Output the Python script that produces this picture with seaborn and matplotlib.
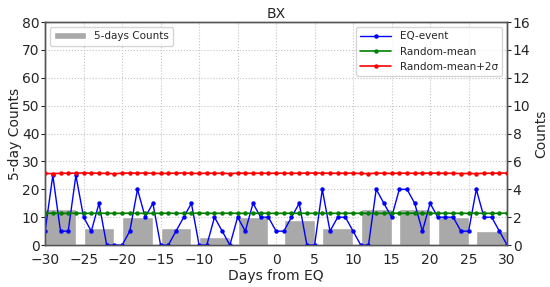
import numpy as np
import pandas as pd
import matplotlib
matplotlib.use("Agg")
import matplotlib.pyplot as plt
import seaborn as sns

# daily EQ-event counts, days -30..30
days = list(range(-30, 31))
eq_event = [1, 5, 1, 1, 5, 2, 1, 3, 0, 0,
            0, 1, 4, 2, 3, 0, 0, 1, 2, 3,
            0, 0, 2, 1, 0, 2, 1, 3, 2, 2,
            1,
            1, 2, 3, 0, 0, 4, 1, 2, 2, 1,
            0, 0, 4, 3, 2, 4, 4, 3, 1, 3,
            2, 2, 2, 1, 1, 4, 2, 2, 1, 0]
random_mean = [2.28, 2.29, 2.28, 2.28, 2.29, 2.28, 2.28, 2.29, 2.28, 2.28,
               2.28, 2.29, 2.28, 2.28, 2.28, 2.28, 2.29, 2.28, 2.28, 2.28,
               2.29, 2.28, 2.28, 2.28, 2.29, 2.28, 2.28, 2.28, 2.29, 2.28,
               2.28,
               2.28, 2.29, 2.28, 2.28, 2.28, 2.29, 2.28, 2.28, 2.28, 2.29,
               2.28, 2.28, 2.28, 2.28, 2.29, 2.28, 2.28, 2.29, 2.28, 2.28,
               2.28, 2.29, 2.28, 2.28, 2.28, 2.29, 2.28, 2.28, 2.28, 2.29]
random_2sigma = [5.14, 5.13, 5.15, 5.16, 5.16, 5.18, 5.16, 5.16, 5.14, 5.12,
                 5.16, 5.17, 5.16, 5.17, 5.15, 5.14, 5.15, 5.16, 5.18, 5.15,
                 5.14, 5.16, 5.15, 5.16, 5.13, 5.16, 5.16, 5.15, 5.16, 5.15,
                 5.16,
                 5.16, 5.15, 5.16, 5.16, 5.17, 5.16, 5.16, 5.15, 5.16, 5.16,
                 5.14, 5.13, 5.16, 5.16, 5.14, 5.16, 5.16, 5.15, 5.16, 5.16,
                 5.16, 5.15, 5.16, 5.13, 5.14, 5.13, 5.15, 5.16, 5.16, 5.17]

# 5-day bins (start day, count)
bin_start = [-30, -25, -20, -15, -10, -5, 1, 6, 11, 16, 21, 26]
bin_counts = [13, 6, 10, 6, 3, 10, 9, 6, 13, 13, 10, 5]

sns.set_style("white")
plt.rcParams["font.family"] = ["DejaVu Sans"]

fig = plt.figure(figsize=(5.5, 2.87), dpi=100)
ax1 = fig.add_axes([0.082, 0.146, 0.840, 0.777])
ax1.bar(bin_start, bin_counts, width=4, align="edge", color="#a9a9a9",
        label="5-days Counts", zorder=2)
ax1.set_xlim(-30, 30)
ax1.set_ylim(0, 80)
ax1.set_xticks(np.arange(-30, 31, 5))
ax1.set_yticks(np.arange(0, 81, 10))
ax1.grid(True, linestyle=":", color="#c4c4c4", linewidth=0.8)
ax1.set_axisbelow(True)
ax1.set_xlabel("Days from EQ", fontsize=10, labelpad=1)
ax1.set_ylabel("5-day Counts", fontsize=10, labelpad=0)
ax1.set_title("BX", fontsize=10, pad=3)
ax1.tick_params(labelsize=10, length=3, pad=1)
ax1.tick_params(axis="x", pad=3)
ax1.legend(loc="upper left", fontsize=7.5, frameon=True, handlelength=3)

ax2 = ax1.twinx()
df = pd.DataFrame({"day": days, "EQ-event": eq_event,
                   "Random-mean": random_mean,
                   "Random-mean+2σ": random_2sigma})
for col, c, lw in [("EQ-event", "blue", 1), ("Random-mean", "green", 1.2),
                   ("Random-mean+2σ", "red", 1.2)]:
    sns.lineplot(data=df, x="day", y=col, ax=ax2, color=c, marker="o",
                 markersize=3.2, markeredgewidth=0, linewidth=lw, label=col)
ax2.set_ylim(0, 16)
ax2.set_yticks(np.arange(0, 17, 2))
ax2.set_xlabel("")
ax2.set_ylabel("Counts", fontsize=10, labelpad=3)
ax2.tick_params(labelsize=10, length=3, pad=1)
ax2.legend(loc="upper right", fontsize=7.5, frameon=True, handlelength=3)

for ax in (ax1, ax2):
    for s in ax.spines.values():
        s.set_color("#555555")
        s.set_linewidth(1)

fig.savefig("out.png", dpi=100)
